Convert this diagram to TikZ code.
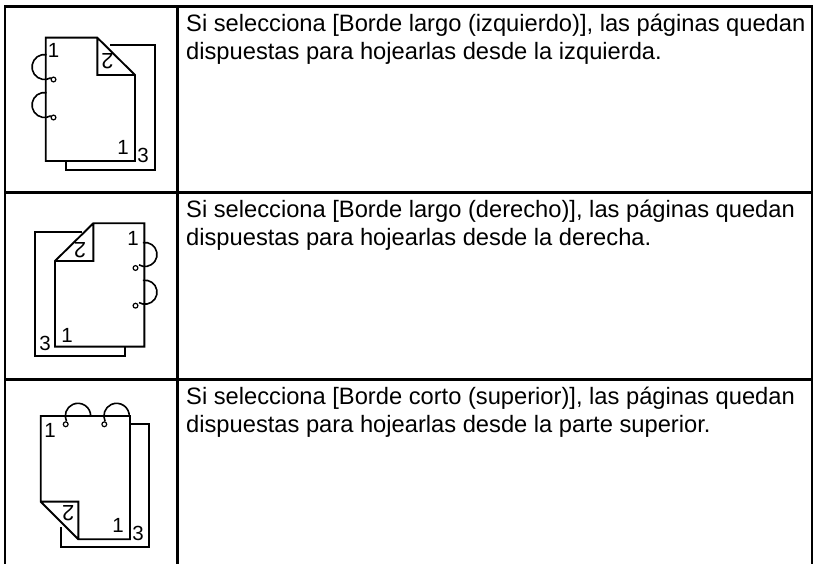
\documentclass[tikz,border=0pt]{standalone}
\usepackage{fontspec}
\setmainfont{Liberation Sans}
\begin{document}
\begin{tikzpicture}[x=1pt,y=1pt,
  rule/.style={line width=2.4pt},
  pageline/.style={line width=1.9pt,line join=miter},
  hook/.style={line width=1.6pt},
  ring/.style={line width=1.2pt},
  digit/.style={inner sep=0pt,font=\fontsize{20.5}{20.5}\selectfont},
  backdigit/.style={digit,rotate=180,font=\fontsize{22}{22}\selectfont},
  celltext/.style={inner sep=0pt,anchor=base west,align=left,
    font=\fontsize{23.7}{28}\selectfont}]
\useasboundingbox (0,0) rectangle (814,564);

% table frame: outer box open at the bottom, column divider, row rules
\draw[rule] (5,0) -- (5,557.5) -- (812,557.5) -- (812,0);
\draw[rule] (177.5,0) -- (177.5,557.5);
\draw[rule] (5,371.5) -- (812,371.5);
\draw[rule] (5,184.5) -- (812,184.5);

% ---------- row 1: long edge, left binding ----------
\draw[pageline] (97.3,526.3) -- (45.7,526.3) -- (45.7,403) -- (135,403) -- (135,489)
  -- cycle (97.3,526.3) -- (97.3,489) -- (135,489);
\draw[pageline] (110,519) -- (155,519) -- (155,394) -- (66,394) -- (66,403);
\foreach \yy in {0,-38}{
  \draw[hook] (44.5,497+\yy) ++(80:12.5) arc[start angle=80,end angle=300,radius=12.5];
  \draw[ring] (53.5,484.5+\yy) circle[radius=2.4];
}
\node[digit] (a1) at (53.5,514) {1};
\node[backdigit] (a2) at (107.5,503) {2};
\node[digit] (a3) at (123,417) {1};
\node[digit] (a4) at (143,409) {3};
% the base anchor of a two-line node sits on its last line
\node[celltext] (t1) at (186,504)
  {Si selecciona [Borde largo (izquierdo)], las páginas quedan\\dispuestas para hojearlas desde la izquierda.};

% ---------- row 2: long edge, right binding ----------
\draw[pageline] (93.3,340.7) -- (144.3,340.7) -- (144.3,217.3) -- (55,217.3) -- (55,303)
  -- cycle (93.3,340.7) -- (93.3,303) -- (55,303);
\draw[pageline] (81.7,332.3) -- (35,332.3) -- (35,208.3) -- (125,208.3) -- (125,217.3);
\foreach \yy in {0,-37.7}{
  \draw[hook] (145,309.5+\yy) ++(100:12) arc[start angle=100,end angle=-120,radius=12];
  \draw[ring] (135.5,296+\yy) circle[radius=2.4];
}
\node[digit] (b1) at (133,326) {1};
\node[backdigit] (b2) at (80,314) {2};
\node[digit] (b3) at (67,229) {1};
\node[digit] (b4) at (45,221) {3};
\node[celltext] (t2) at (186,318)
  {Si selecciona [Borde largo (derecho)], las páginas quedan\\dispuestas para hojearlas desde la derecha.};

% ---------- row 3: short edge, top binding ----------
\draw[pageline] (40.7,62.3) -- (40.7,148) -- (130,148) -- (130,24.7) -- (78.3,24.7)
  -- cycle (40.7,62.3) -- (78.3,62.3) -- (78.3,24.7);
\draw[pageline] (130,139.7) -- (149,139.7) -- (149,17.3) -- (60.7,17.3) -- (60.7,37.3);
\foreach \xx in {0,38.6}{
  \draw[hook] (78+\xx,148) ++(205:12.7) arc[start angle=205,end angle=0,radius=12.7];
  \draw[ring] (65.7+\xx,139.7) circle[radius=2.4];
}
\node[digit] (c1) at (50,134) {1};
\node[backdigit] (c2) at (68.3,50.7) {2};
\node[digit] (c3) at (118,39) {1};
\node[digit] (c4) at (138,31) {3};
\node[celltext] (t3) at (186,131.5)
  {Si selecciona [Borde corto (superior)], las páginas quedan\\dispuestas para hojearlas desde la parte superior.};
\end{tikzpicture}
\end{document}
